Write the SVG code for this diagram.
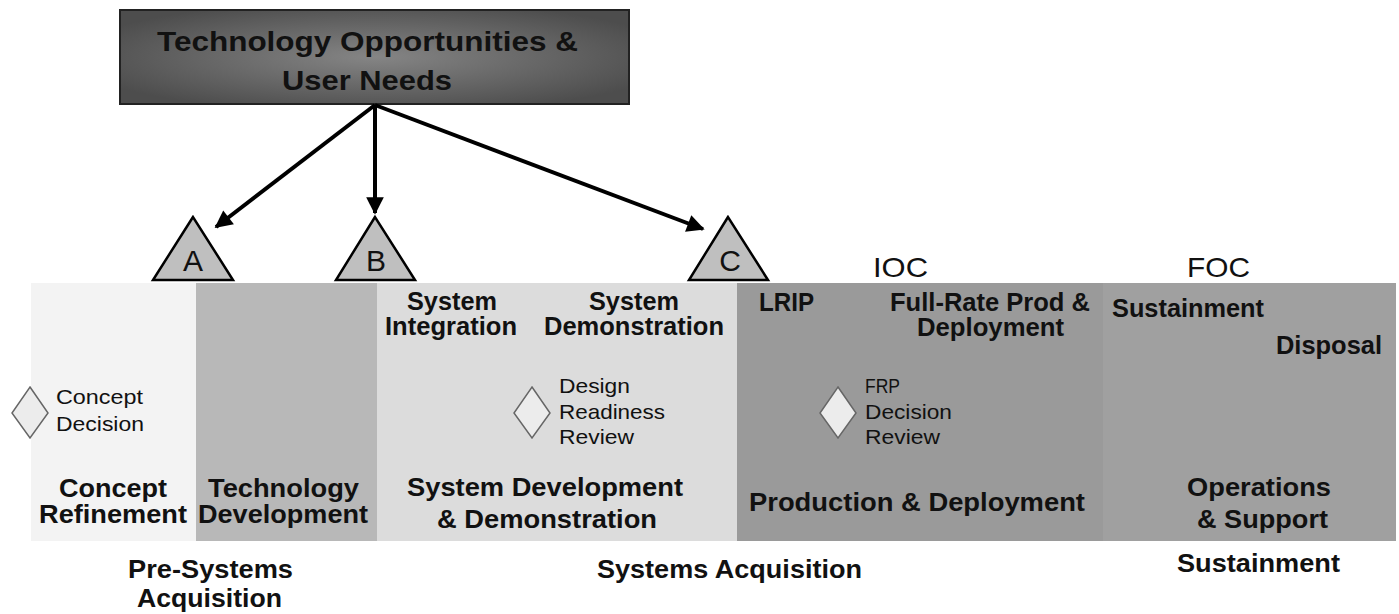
<svg xmlns="http://www.w3.org/2000/svg" width="1399" height="614" viewBox="0 0 1399 614">
<defs>
<radialGradient id="boxg" cx="0.5" cy="0.5" r="0.6">
<stop offset="0" stop-color="#858585"/>
<stop offset="1" stop-color="#4d4d4d"/>
</radialGradient>
<marker id="ah" viewBox="0 0 10 10" refX="9" refY="5" markerWidth="5" markerHeight="4.4" orient="auto" markerUnits="strokeWidth">
<path d="M0,0 L10,5 L0,10 z" fill="#000"/>
</marker>
</defs>
<style>
.b{font-family:"Liberation Sans",Arial,sans-serif;font-weight:bold;fill:#111;}
.r{font-family:"Liberation Sans",Arial,sans-serif;font-weight:normal;fill:#111;}
.big{font-size:26px;}
.sm{font-size:21px;}
.tri{fill:#bfbfbf;stroke:#000;stroke-width:2.5;stroke-linejoin:miter;}
.dia{fill:#ececec;stroke:#666;stroke-width:1.5;}
.conn{stroke:#000;stroke-width:4;fill:none;marker-end:url(#ah);}
</style>
<rect width="1399" height="614" fill="#fff"/>

<g id="top-node">
<rect x="120" y="10" width="509" height="94" fill="url(#boxg)" stroke="#222" stroke-width="2"/>
<text class="b" font-size="28"><tspan x="157" y="51" textLength="421" lengthAdjust="spacingAndGlyphs">Technology Opportunities &amp;</tspan><tspan x="282" y="90" textLength="170" lengthAdjust="spacingAndGlyphs">User Needs</tspan></text>
</g>

<g id="phases">
<g id="concept-refinement">
<rect x="31" y="283" width="165" height="258" fill="#f3f3f3"/>
<polygon class="dia" points="30,387 48,413 30,438 12,413"/>
<text class="r sm"><tspan x="56" y="404" textLength="87" lengthAdjust="spacingAndGlyphs">Concept</tspan><tspan x="56" y="431" textLength="88" lengthAdjust="spacingAndGlyphs">Decision</tspan></text>
<text class="b big"><tspan x="59" y="497" textLength="108" lengthAdjust="spacingAndGlyphs">Concept</tspan><tspan x="39" y="523" textLength="148" lengthAdjust="spacingAndGlyphs">Refinement</tspan></text>
</g>
<g id="technology-development">
<rect x="196" y="283" width="181" height="258" fill="#b8b8b8"/>
<text class="b big"><tspan x="208" y="497" textLength="151" lengthAdjust="spacingAndGlyphs">Technology</tspan><tspan x="198" y="523" textLength="170" lengthAdjust="spacingAndGlyphs">Development</tspan></text>
</g>
<g id="system-dev-demo">
<rect x="377" y="283" width="360" height="258" fill="#dcdcdc"/>
<text class="b big"><tspan x="407" y="310" textLength="90" lengthAdjust="spacingAndGlyphs">System</tspan><tspan x="385" y="335" textLength="132" lengthAdjust="spacingAndGlyphs">Integration</tspan></text>
<text class="b big"><tspan x="589" y="310" textLength="90" lengthAdjust="spacingAndGlyphs">System</tspan><tspan x="544" y="335" textLength="180" lengthAdjust="spacingAndGlyphs">Demonstration</tspan></text>
<polygon class="dia" points="532,387 550,413 532,438 514,413"/>
<text class="r sm"><tspan x="559" y="393" textLength="71" lengthAdjust="spacingAndGlyphs">Design</tspan><tspan x="559" y="419" textLength="106" lengthAdjust="spacingAndGlyphs">Readiness</tspan><tspan x="559" y="444" textLength="75" lengthAdjust="spacingAndGlyphs">Review</tspan></text>
<text class="b big"><tspan x="407" y="496" textLength="276" lengthAdjust="spacingAndGlyphs">System Development</tspan><tspan x="437" y="528" textLength="220" lengthAdjust="spacingAndGlyphs">&amp; Demonstration</tspan></text>
</g>
<g id="production-deployment">
<rect x="737" y="283" width="366" height="258" fill="#9a9a9a"/>
<text class="b big" x="759" y="311" textLength="55" lengthAdjust="spacingAndGlyphs">LRIP</text>
<text class="b big"><tspan x="890" y="311" textLength="200" lengthAdjust="spacingAndGlyphs">Full-Rate Prod &amp;</tspan><tspan x="917" y="336" textLength="147" lengthAdjust="spacingAndGlyphs">Deployment</tspan></text>
<polygon class="dia" points="838,387 856,413 838,438 820,413"/>
<text class="r sm"><tspan x="865" y="393" textLength="35" lengthAdjust="spacingAndGlyphs">FRP</tspan><tspan x="865" y="419" textLength="87" lengthAdjust="spacingAndGlyphs">Decision</tspan><tspan x="865" y="444" textLength="75" lengthAdjust="spacingAndGlyphs">Review</tspan></text>
<text class="b big" x="749" y="511" textLength="336" lengthAdjust="spacingAndGlyphs">Production &amp; Deployment</text>
</g>
<g id="operations-support">
<rect x="1103" y="283" width="293" height="258" fill="#a0a0a0"/>
<text class="b big" x="1112" y="317" textLength="152" lengthAdjust="spacingAndGlyphs">Sustainment</text>
<text class="b big" x="1276" y="354" textLength="106" lengthAdjust="spacingAndGlyphs">Disposal</text>
<text class="b big"><tspan x="1187" y="496" textLength="144" lengthAdjust="spacingAndGlyphs">Operations</tspan><tspan x="1197" y="528" textLength="131" lengthAdjust="spacingAndGlyphs">&amp; Support</tspan></text>
</g>
</g>

<g id="milestone-A">
<polygon class="tri" points="193,217 153,280 233,280"/>
<text class="r" x="193" y="271" font-size="30" text-anchor="middle">A</text>
</g>
<g id="milestone-B">
<polygon class="tri" points="375,217 336,280 415,280"/>
<text class="r" x="376" y="271" font-size="30" text-anchor="middle">B</text>
</g>
<g id="milestone-C">
<polygon class="tri" points="728,217 689,280 768,280"/>
<text class="r" x="730" y="271" font-size="30" text-anchor="middle">C</text>
</g>

<g id="labels">
<text class="r" x="873" y="277" font-size="28" textLength="55" lengthAdjust="spacingAndGlyphs">IOC</text>
<text class="r" x="1187" y="277" font-size="28" textLength="63" lengthAdjust="spacingAndGlyphs">FOC</text>
<text class="b big"><tspan x="128" y="578" textLength="165" lengthAdjust="spacingAndGlyphs">Pre-Systems</tspan><tspan x="137" y="607" textLength="145" lengthAdjust="spacingAndGlyphs">Acquisition</tspan></text>
<text class="b big" x="597" y="578" textLength="265" lengthAdjust="spacingAndGlyphs">Systems Acquisition</text>
<text class="b big" x="1177" y="572" textLength="163" lengthAdjust="spacingAndGlyphs">Sustainment</text>
</g>

<g id="connectors">
<line class="conn" x1="375" y1="105" x2="216" y2="227"/>
<line class="conn" x1="375" y1="105" x2="375" y2="213"/>
<line class="conn" x1="375" y1="105" x2="703" y2="229"/>
</g>
</svg>
